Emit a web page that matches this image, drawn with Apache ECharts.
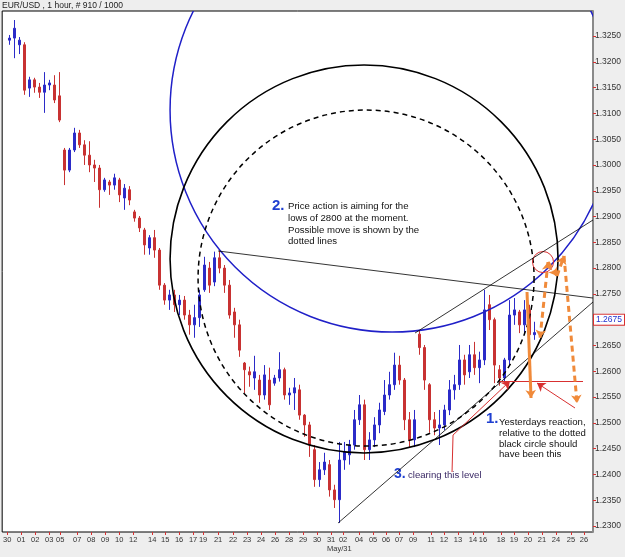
<!DOCTYPE html>
<html>
<head>
<meta charset="utf-8">
<title>EUR/USD 1 hour</title>
<script src="https://cdn.jsdelivr.net/npm/echarts@6/dist/echarts.min.js"></script>
<style>
  html, body { margin: 0; padding: 0; background: #eeeeee; }
  #chart { width: 625px; height: 557px; }
</style>
</head>
<body>
<div id="chart"></div>
<script>
// day labels under the time axis and the bar slot where each one sits
const dayLabels = ['30', '01', '02', '03', '05', '07', '08', '09', '10', '12', '14', '15', '16', '17', '19',
  '21', '22', '23', '24', '26', '28', '29', '30', '31', '02', '04', '05', '06', '07', '09', '11', '12',
  '13', '14', '16', '18', '19', '20', '21', '24', '25', '26']
const dayTicks = [0.5, 3.3, 6.1, 8.9, 11.1, 14.5, 17.3, 20.1, 22.9, 25.7, 29.5, 32.1, 34.9, 37.7, 39.7,
  42.7, 45.7, 48.5, 51.3, 54.1, 56.9, 59.7, 62.5, 65.3, 67.7, 70.9, 73.7, 76.3, 78.9, 81.7, 85.3, 87.9,
  90.7, 93.7, 95.7, 99.3, 101.9, 104.7, 107.5, 110.3, 113.3, 115.9]

const priceTicks = [1.2300, 1.2350, 1.2400, 1.2450, 1.2500, 1.2550, 1.2600, 1.2650, 1.2700, 1.2750,
  1.2800, 1.2850, 1.2900, 1.2950, 1.3000, 1.3050, 1.3100, 1.3150, 1.3200, 1.3250]

const lastPrice = 1.2675

// open, close, low, high - one bar per slot, starting at slot 1
const ohlc = [
  [1.3242, 1.3246, 1.3233, 1.3252], [1.3246, 1.3265, 1.3207, 1.3281], [1.3233, 1.3242, 1.3215, 1.3248],
  [1.3233, 1.3145, 1.3136, 1.3238], [1.3149, 1.3165, 1.3132, 1.3171], [1.3165, 1.3151, 1.3140, 1.3169],
  [1.3151, 1.3141, 1.3130, 1.3159], [1.3141, 1.3155, 1.3101, 1.3180], [1.3155, 1.3159, 1.3145, 1.3165],
  [1.3155, 1.3126, 1.3120, 1.3174], [1.3134, 1.3087, 1.3083, 1.3180], [1.3029, 1.2990, 1.2961, 1.3033],
  [1.2990, 1.3029, 1.2986, 1.3033], [1.3029, 1.3062, 1.3025, 1.3072], [1.3062, 1.3039, 1.3033, 1.3068],
  [1.3039, 1.3019, 1.3000, 1.3048], [1.3019, 1.3000, 1.2986, 1.3046], [1.3000, 1.2994, 1.2967, 1.3010],
  [1.2994, 1.2952, 1.2917, 1.3000], [1.2952, 1.2971, 1.2948, 1.2975], [1.2967, 1.2961, 1.2942, 1.2971],
  [1.2961, 1.2975, 1.2952, 1.2983], [1.2971, 1.2942, 1.2928, 1.2975], [1.2936, 1.2955, 1.2913, 1.2963],
  [1.2952, 1.2932, 1.2922, 1.2959], [1.2909, 1.2897, 1.2890, 1.2913], [1.2897, 1.2878, 1.2870, 1.2901],
  [1.2874, 1.2845, 1.2826, 1.2878], [1.2839, 1.2859, 1.2826, 1.2864], [1.2859, 1.2835, 1.2820, 1.2874],
  [1.2835, 1.2767, 1.2758, 1.2839], [1.2767, 1.2738, 1.2729, 1.2771], [1.2738, 1.2748, 1.2719, 1.2758],
  [1.2748, 1.2729, 1.2715, 1.2758], [1.2729, 1.2738, 1.2709, 1.2748], [1.2738, 1.2709, 1.2700, 1.2746],
  [1.2709, 1.2690, 1.2671, 1.2719], [1.2690, 1.2704, 1.2665, 1.2729], [1.2704, 1.2748, 1.2686, 1.2758],
  [1.2758, 1.2806, 1.2754, 1.2822], [1.2800, 1.2767, 1.2752, 1.2812], [1.2773, 1.2820, 1.2765, 1.2832],
  [1.2820, 1.2800, 1.2790, 1.2834], [1.2800, 1.2767, 1.2752, 1.2806], [1.2767, 1.2709, 1.2702, 1.2777],
  [1.2715, 1.2690, 1.2665, 1.2723], [1.2690, 1.2641, 1.2628, 1.2700], [1.2616, 1.2603, 1.2558, 1.2618],
  [1.2599, 1.2593, 1.2570, 1.2609], [1.2587, 1.2599, 1.2564, 1.2630], [1.2583, 1.2554, 1.2539, 1.2593],
  [1.2554, 1.2593, 1.2545, 1.2612], [1.2583, 1.2535, 1.2525, 1.2607], [1.2577, 1.2587, 1.2572, 1.2593],
  [1.2587, 1.2603, 1.2580, 1.2637], [1.2603, 1.2554, 1.2545, 1.2607], [1.2554, 1.2558, 1.2535, 1.2568],
  [1.2558, 1.2568, 1.2525, 1.2587], [1.2564, 1.2515, 1.2506, 1.2574], [1.2515, 1.2496, 1.2473, 1.2517],
  [1.2496, 1.2457, 1.2434, 1.2502], [1.2448, 1.2390, 1.2376, 1.2457], [1.2390, 1.2409, 1.2376, 1.2424],
  [1.2409, 1.2424, 1.2399, 1.2442], [1.2419, 1.2370, 1.2357, 1.2428], [1.2370, 1.2351, 1.2335, 1.2380],
  [1.2351, 1.2428, 1.2306, 1.2463], [1.2428, 1.2444, 1.2409, 1.2463], [1.2438, 1.2457, 1.2419, 1.2467],
  [1.2457, 1.2506, 1.2448, 1.2525], [1.2506, 1.2535, 1.2496, 1.2554], [1.2535, 1.2448, 1.2428, 1.2545],
  [1.2448, 1.2467, 1.2428, 1.2482], [1.2467, 1.2496, 1.2453, 1.2511], [1.2496, 1.2525, 1.2480, 1.2539],
  [1.2522, 1.2554, 1.2515, 1.2583], [1.2554, 1.2574, 1.2545, 1.2599], [1.2574, 1.2612, 1.2564, 1.2636],
  [1.2612, 1.2583, 1.2574, 1.2630], [1.2583, 1.2506, 1.2486, 1.2587], [1.2506, 1.2467, 1.2453, 1.2521],
  [1.2467, 1.2506, 1.2453, 1.2525], [1.2672, 1.2646, 1.2632, 1.2678], [1.2646, 1.2583, 1.2564, 1.2651],
  [1.2574, 1.2506, 1.2481, 1.2577], [1.2506, 1.2490, 1.2476, 1.2521], [1.2490, 1.2496, 1.2457, 1.2525],
  [1.2496, 1.2525, 1.2486, 1.2535], [1.2525, 1.2564, 1.2515, 1.2583], [1.2564, 1.2574, 1.2545, 1.2593],
  [1.2574, 1.2622, 1.2564, 1.2651], [1.2622, 1.2593, 1.2574, 1.2632], [1.2599, 1.2632, 1.2587, 1.2651],
  [1.2632, 1.2607, 1.2593, 1.2657], [1.2607, 1.2622, 1.2577, 1.2638], [1.2622, 1.2719, 1.2612, 1.2758],
  [1.2729, 1.2700, 1.2680, 1.2748], [1.2700, 1.2612, 1.2577, 1.2704], [1.2603, 1.2587, 1.2572, 1.2612],
  [1.2587, 1.2622, 1.2580, 1.2626], [1.2622, 1.2709, 1.2612, 1.2738], [1.2709, 1.2719, 1.2690, 1.2742],
  [1.2715, 1.2690, 1.2674, 1.2719], [1.2690, 1.2719, 1.2671, 1.2738], [1.2719, 1.2671, 1.2657, 1.2729],
  [1.2671, 1.2675, 1.2661, 1.2696]
]

// drawn studies, in slot / price units: [centerSlot, centerPrice, radiusInPrice]
const blueCircle = [77.5, 1.31065, 0.04304]
const solidCircle = [71.9, 1.28177, 0.03761]
const dashedCircle = [72.3, 1.27808, 0.03257]
const redCircle = [107.7, 1.28118, 0.00204]

// segments: [slot1, price1, slot2, price2]
const trendLines = [
  [42.7, 1.28332, 117.7, 1.27420],
  [82.1, 1.26742, 117.7, 1.28933],
  [66.7, 1.23058, 117.7, 1.27343]
]
const redPointer = [[89.5, 1.24047, 89.7, 1.24764], [89.7, 1.24764, 101.1, 1.25811]]
const redLevel = [99.1, 1.25814, 115.7, 1.25814]
const redArrow = [114.1, 1.25288, 106.5, 1.25772]
const orangeSolid = [104.5, 1.27537, 105.3, 1.25482]
const orangeDashed = [
  [108.7, 1.28118, 107.1, 1.26645],
  [108.7, 1.28118, 110.5, 1.27847],
  [110.5, 1.27847, 111.9, 1.28235],
  [111.9, 1.28235, 114.5, 1.25385]
]

const FONT = '"Liberation Sans", Arial, sans-serif'
const RED = '#d83030'
const ORANGE = '#f08a3a'

function seg(s, style, startSym, endSym) {
  return [
    { coord: [s[0], s[1]], symbol: startSym || 'none', symbolSize: 8, lineStyle: style },
    { coord: [s[2], s[3]], symbol: endSym || 'none', symbolSize: 8 }
  ]
}

const thin = { color: '#000', width: 0.8, type: 'solid' }
const redThin = { color: RED, width: 1, type: 'solid' }
const orangeFull = { color: ORANGE, width: 3, type: 'solid' }
const orangeDash = { color: ORANGE, width: 3, type: [6, 4] }

const markData = []
trendLines.forEach(s => markData.push(seg(s, thin)))
markData.push(seg(redPointer[0], redThin))
markData.push(seg(redPointer[1], redThin, 'none', 'arrow'))
markData.push(seg(redLevel, redThin))
markData.push(seg(redArrow, redThin, 'none', 'arrow'))
markData.push(seg(orangeSolid, orangeFull, 'none', 'arrow'))
markData.push(seg(orangeDashed[0], orangeDash, 'arrow', 'arrow'))
orangeDashed.slice(1).forEach(s => markData.push(seg(s, orangeDash, 'none', 'arrow')))
markData.push({
  yAxis: lastPrice,
  lineStyle: { color: 'rgba(0,0,0,0)', width: 0 },
  label: {
    show: true,
    position: 'end',
    distance: 1,
    formatter: lastPrice.toFixed(4),
    color: '#2030d0',
    backgroundColor: '#fff',
    borderColor: RED,
    borderWidth: 1,
    padding: [1, 2, 0, 2],
    fontSize: 8.5,
    fontFamily: FONT
  }
})

const circles = [blueCircle, solidCircle, dashedCircle, redCircle]
const circleStyles = [
  { stroke: '#2020c8', lineWidth: 1.5 },
  { stroke: '#000', lineWidth: 1.6 },
  { stroke: '#000', lineWidth: 1.5, lineDash: [5, 4] },
  { stroke: RED, lineWidth: 1 }
]

const chart = echarts.init(document.getElementById('chart'))

chart.setOption({
  animation: false,
  backgroundColor: '#eeeeee',
  grid: {
    left: 2,
    right: 32,
    top: 11,
    bottom: 25,
    show: true,
    backgroundColor: '#fff',
    borderColor: '#000',
    borderWidth: 1
  },
  xAxis: {
    type: 'value',
    min: -0.5,
    max: 117.7,
    axisLine: { show: false, onZero: false },
    splitLine: { show: false },
    axisTick: {
      customValues: dayTicks,
      length: 3,
      lineStyle: { color: RED }
    },
    axisLabel: {
      customValues: dayTicks,
      formatter: v => {
        const i = dayTicks.findIndex(t => Math.abs(t - v) < 1e-6)
        return i >= 0 ? dayLabels[i] : ''
      },
      margin: 4,
      fontSize: 7.5,
      color: '#333',
      fontFamily: FONT
    }
  },
  yAxis: {
    type: 'value',
    position: 'right',
    min: 1.22884,
    max: 1.32985,
    axisLine: { show: true, onZero: false, lineStyle: { color: '#8a8a8a', width: 2 } },
    splitLine: { show: false },
    axisTick: {
      show: true,
      customValues: priceTicks,
      length: 3,
      lineStyle: { color: RED }
    },
    axisLabel: {
      customValues: priceTicks,
      formatter: v => v.toFixed(4),
      margin: 2,
      fontSize: 8.5,
      color: '#333',
      fontFamily: FONT
    }
  },
  series: [
    {
      name: 'EUR/USD',
      type: 'candlestick',
      barWidth: 2,
      encode: { x: 0, y: [1, 2, 3, 4] },
      itemStyle: {
        color: '#2b2bc8',
        color0: '#c83232',
        borderColor: '#2b2bc8',
        borderColor0: '#c83232',
        borderWidth: 1
      },
      data: ohlc.map((d, i) => [i + 1, d[0], d[1], d[2], d[3]]),
      markLine: {
        silent: true,
        symbol: 'none',
        label: { show: false },
        data: markData
      }
    },
    {
      name: 'studies',
      type: 'custom',
      silent: true,
      z: 3,
      encode: { x: 0, y: 1 },
      data: circles.map((c, i) => [c[0], c[1], c[2], i]),
      renderItem(params, api) {
        const c = api.coord([api.value(0), api.value(1)])
        const r = api.size([0, api.value(2)])[1]
        const cs = params.coordSys
        return {
          type: 'group',
          clipPath: { type: 'rect', shape: { x: cs.x, y: cs.y, width: cs.width, height: cs.height } },
          children: [{
            type: 'circle',
            shape: { cx: c[0], cy: c[1], r: r },
            style: Object.assign({ fill: 'none' }, circleStyles[api.value(3)])
          }]
        }
      }
    }
  ],
  graphic: [
    { type: 'text', left: 2, top: 1, style: { text: 'EUR/USD , 1 hour, # 910 / 1000', fontSize: 8.5, fill: '#222', fontFamily: FONT } },
    { type: 'text', left: 272, top: 198, style: { text: '2.', fontSize: 15, fontWeight: 'bold', fill: '#1f3fd0', fontFamily: FONT } },
    {
      type: 'text', left: 288, top: 201,
      style: {
        text: 'Price action is aiming for the\nlows of 2800 at the moment.\nPossible move is shown by the\ndotted lines',
        fontSize: 9.6, lineHeight: 11.6, fill: '#111', fontFamily: FONT
      }
    },
    { type: 'text', left: 486, top: 411, style: { text: '1.', fontSize: 15, fontWeight: 'bold', fill: '#1f3fd0', fontFamily: FONT } },
    {
      type: 'text', left: 499, top: 417,
      style: {
        text: 'Yesterdays reaction,\nrelative to the dotted\nblack circle should\nhave been this',
        fontSize: 9.6, lineHeight: 10.8, fill: '#111', fontFamily: FONT
      }
    },
    { type: 'text', left: 394, top: 467, style: { text: '3.', fontSize: 14, fontWeight: 'bold', fill: '#1f3fd0', fontFamily: FONT } },
    { type: 'text', left: 408, top: 470, style: { text: 'clearing this level', fontSize: 9.6, fill: '#3b2a66', fontFamily: FONT } },
    { type: 'text', left: 327, top: 545, style: { text: 'May/31', fontSize: 7.5, fill: '#333', fontFamily: FONT } }
  ]
})
</script>
</body>
</html>
